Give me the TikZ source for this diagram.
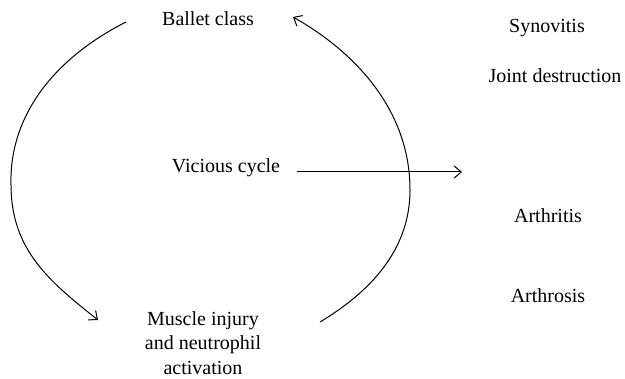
\documentclass[tikz,border=0pt]{standalone}
\usepackage{fontspec}
\setmainfont{Liberation Serif}
\usetikzlibrary{arrows.meta, positioning}

\begin{document}
\begin{tikzpicture}[
    x=0.5pt, y=-0.5pt,
    textnode/.style=
    {font=\fontsize{10}{12.25}\selectfont, align=center, inner sep=1pt},
    loopline/.style=
    {draw, line width=0.5pt, -{Straight Barb[length=3.5pt,width=6pt]}}]
    \useasboundingbox (0,0) rectangle (625,379);
    % cycle labels
    \node (ballet) [textnode, anchor=base] at (208,26) {Ballet class};
    \node (vicious) [textnode, anchor=base] at (226,173) {Vicious cycle};
    \node (muscle) [textnode] at (203,343) {Muscle injury\\and neutrophil\\activation};
    % outcomes
    \foreach \n/\t/\x/\y in {syn/Synovitis/547/33, joint/Joint destruction/555/83,
        arthritis/Arthritis/548/222, arthrosis/Arthrosis/548/302}
        \node (\n) [textnode, anchor=base] at (\x,\y) {\t};
    % arc ends
    \coordinate (left start) at (126,22);
    \coordinate (left end) at (98,320);
    \coordinate (right start) at (320,322);
    \coordinate (right end) at (293,17);
    \coordinate (spread) at (462,172);
    \path[loopline] (left start) .. controls (55,58) and (9,115) .. (11,185)
        .. controls (11,250) and (50,282) .. (left end);
    \path[loopline] (right start) .. controls (370,292) and (410,250) .. (410,190)
        .. controls (410,110) and (355,52) .. (right end);
    \path[loopline, shorten <=7pt] (vicious.base east) ++(0,-1) -- (spread);
\end{tikzpicture}
\end{document}
